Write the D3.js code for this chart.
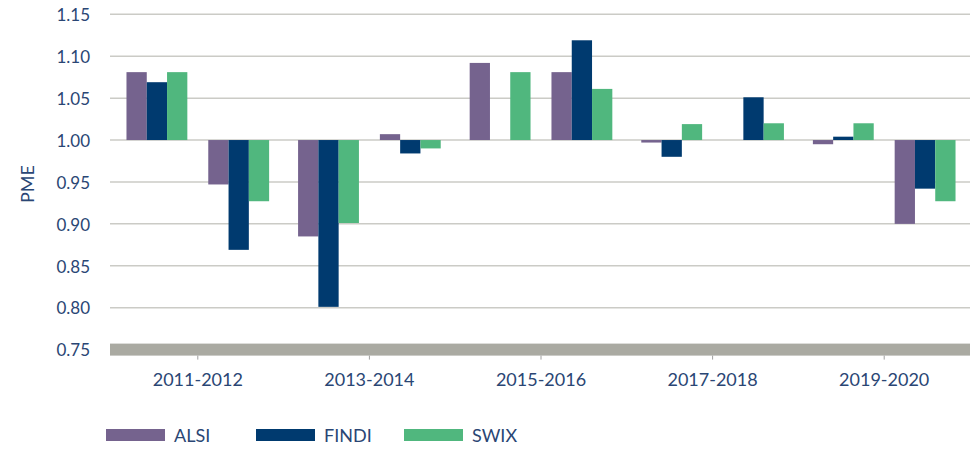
<!DOCTYPE html>
<html>
<head>
<meta charset="utf-8">
<script src="https://cdn.jsdelivr.net/npm/d3@7"></script>
<style>
  body { margin: 0; background: #fff; }
  svg text { font-family: Lato, "Open Sans", sans-serif; fill: #2a4674; }
</style>
</head>
<body>
<div id="chart"></div>
<script>
// periods on the axis, each holding two years
const periods = ["2011-2012", "2013-2014", "2015-2016", "2017-2018", "2019-2020"];
const years = [2011, 2012, 2013, 2014, 2015, 2016, 2017, 2018, 2019, 2020];
const seriesNames = ["ALSI", "FINDI", "SWIX"];
const colors = ["#75638e", "#003a6f", "#50b77e"];

// PME per year (null = no bar)
const alsi  = [1.081, 0.947, 0.885, 1.007, 1.092, 1.081, 0.997, null, 0.995, 0.900];
const findi = [1.069, 0.869, 0.801, 0.984, null, 1.119, 0.980, 1.051, 1.004, 0.942];
const swix  = [1.081, 0.927, 0.901, 0.990, 1.081, 1.061, 1.019, 1.020, 1.020, 0.927];

const yTicks = [0.75, 0.80, 0.85, 0.90, 0.95, 1.00, 1.05, 1.10, 1.15];

const width = 977, height = 449;
const plotLeft = 110, plotRight = 970, plotTop = 14.3, plotBottom = 349.6;

const svg = d3.select("#chart").append("svg")
    .attr("width", width)
    .attr("height", height);

const y = d3.scaleLinear().domain([0.75, 1.15]).range([plotBottom, plotTop]);

const x0 = d3.scaleBand().domain(periods).range([plotLeft + 2, plotRight]);
const x1 = d3.scaleBand().domain([0, 1]).range([0, x0.bandwidth()])
    .paddingInner(0.256).paddingOuter(0.177);
const x2 = d3.scaleBand().domain(seriesNames).range([0, x1.bandwidth()]);

// gridlines
svg.append("g")
    .selectAll("line")
    .data(yTicks.slice(1))
    .join("line")
    .attr("x1", plotLeft)
    .attr("x2", plotRight)
    .attr("y1", d => y(d))
    .attr("y2", d => y(d))
    .attr("stroke", "#cbcbc6")
    .attr("stroke-width", 1.5);

// y labels
svg.append("g")
    .selectAll("text")
    .data(yTicks)
    .join("text")
    .attr("x", 90)
    .attr("y", d => y(d))
    .attr("dy", "0.4em")
    .attr("text-anchor", "end")
    .style("font-size", "17px")
    .text(d => d.toFixed(2));

svg.append("text")
    .attr("transform", "translate(34,184) rotate(-90)")
    .attr("text-anchor", "middle")
    .style("font-size", "18px")
    .text("PME");

// bars
const rows = [];
years.forEach((yr, i) => {
    const p = periods[Math.floor(i / 2)];
    [alsi, findi, swix].forEach((arr, s) => {
        if (arr[i] != null) rows.push({ period: p, sub: i % 2, series: seriesNames[s], value: arr[i], color: colors[s] });
    });
});

svg.append("g")
    .selectAll("rect")
    .data(rows)
    .join("rect")
    .attr("x", d => x0(d.period) + x1(d.sub) + x2(d.series))
    .attr("width", x2.bandwidth())
    .attr("y", d => y(Math.max(d.value, 1)))
    .attr("height", d => Math.abs(y(d.value) - y(1)))
    .attr("fill", d => d.color);

// category axis band
svg.append("rect")
    .attr("x", plotLeft)
    .attr("width", plotRight - plotLeft)
    .attr("y", y(0.75) - 6)
    .attr("height", 12)
    .attr("fill", "#aaaaa2");

svg.append("g")
    .selectAll("line")
    .data(periods)
    .join("line")
    .attr("x1", d => x0(d) + x0.bandwidth() / 2)
    .attr("x2", d => x0(d) + x0.bandwidth() / 2)
    .attr("y1", y(0.75) + 6)
    .attr("y2", y(0.75) + 10)
    .attr("stroke", "#a0a0a0")
    .attr("stroke-width", 1);

svg.append("g")
    .selectAll("text")
    .data(periods)
    .join("text")
    .attr("x", d => x0(d) + x0.bandwidth() / 2)
    .attr("y", 386)
    .attr("text-anchor", "middle")
    .style("font-size", "18px")
    .text(d => d);

// legend
const legendX = [106, 256, 404];
const legend = svg.append("g")
    .selectAll("g")
    .data(seriesNames)
    .join("g")
    .attr("transform", (d, i) => "translate(" + legendX[i] + ",429)");

legend.append("rect")
    .attr("width", 59)
    .attr("height", 12)
    .attr("fill", (d, i) => colors[i]);

legend.append("text")
    .attr("x", 68)
    .attr("y", 13)
    .style("font-size", "18px")
    .text(d => d);
</script>
</body>
</html>
